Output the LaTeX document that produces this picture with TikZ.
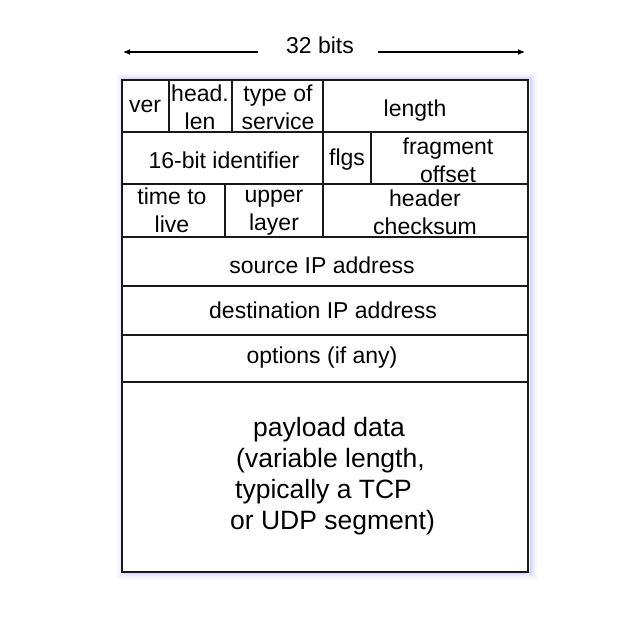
\documentclass[tikz,border=0pt]{standalone}
\usepackage{fontspec}
\setmainfont{Liberation Sans}
\usetikzlibrary{arrows.meta}
\begin{document}
\begin{tikzpicture}[x=1pt,y=-1pt,
  cell/.style={line width=1.3pt,draw=black!90},
  lbl/.style={inner sep=0pt,font=\fontsize{23}{28}\selectfont,align=center,text=black},
  glow/.style={draw=blue!60!white},
  arr/.style={line width=1.1pt,-{Latex[length=7pt,width=6pt]}}]
\useasboundingbox (0,0) rectangle (644,616);
\fill[white] (0,0) rectangle (644,616);
% glow around the frame
\foreach \i/\o in {1/0.30,2/0.24,3/0.18,4/0.13,5/0.09,6/0.06,7/0.04,8/0.02}{
  \draw[glow,line width=1pt,opacity=\o] (122-\i+2,80-\i) rectangle (528+\i+1,572+\i-1);
}
\fill[white] (122,80) rectangle (528,572);
% title and arrows
\node[lbl] (bits) at (320,45) {32 bits};
\coordinate (la) at (258,52);
\coordinate (lb) at (123,52);
\coordinate (ra) at (378,52);
\coordinate (rb) at (525,52);
\draw[arr] (la) -- (lb);
\draw[arr] (ra) -- (rb);
% frame and rows
\draw[cell] (122,80) rectangle (528,572);
\draw[cell] (122,132) -- (528,132);
\draw[cell] (122,184) -- (528,184);
\draw[cell] (122,237) -- (528,237);
\draw[cell] (122,286) -- (528,286);
\draw[cell] (122,335) -- (528,335);
\draw[cell] (122,382) -- (528,382);
% verticals
\draw[cell] (169,80) -- (169,132);
\draw[cell] (232,80) -- (232,132);
\draw[cell] (323,80) -- (323,237);
\draw[cell] (371,132) -- (371,184);
\draw[cell] (225,184) -- (225,237);
% labels row 1
\node[lbl] (ver) at (145,106) {ver};
\node[lbl] (hl) at (200,107) {head.\\len};
\node[lbl] (tos) at (278,107) {type of\\service};
\node[lbl] (len) at (415,111) {length};
% row 2
\node[lbl] (id) at (224,160) {16-bit identifier};
\node[lbl] (flgs) at (347,160) {flgs};
\node[lbl] (frag) at (448,160) {fragment\\offset};
% row 3
\node[lbl] (ttl) at (172,210) {time to\\live};
\node[lbl] (ul) at (274,213) {upper\\layer};
\node[lbl] (cks) at (425,212) {header\\checksum};
% full rows
\node[lbl] (src) at (322,265) {source IP address};
\node[lbl] (dst) at (323,310) {destination IP address};
\node[lbl] (opt) at (322,358) {options (if any)};
\node[lbl,anchor=west,align=left,font=\fontsize{26.5}{31}\selectfont] (pay) at (230,476)
  {\hspace*{23pt}payload data\\\hspace*{6pt}(variable length,\\\hspace*{5pt}typically a TCP\\or UDP segment)};
\end{tikzpicture}
\end{document}
